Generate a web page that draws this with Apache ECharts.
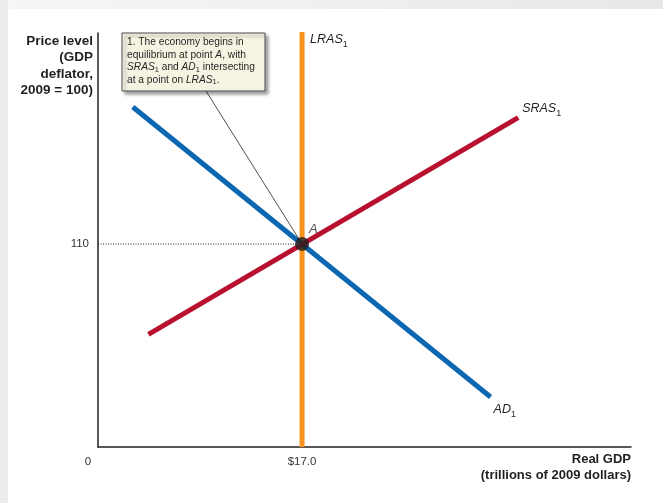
<!DOCTYPE html>
<html>
<head>
<meta charset="utf-8">
<script src="https://cdn.jsdelivr.net/npm/echarts@6/dist/echarts.min.js"></script>
<style>
  html, body { margin: 0; padding: 0; background: #fff; }
  #chart { width: 663px; height: 503px; }
</style>
</head>
<body>
<div id="chart"></div>
<script>
// Axis ticks
const gdpTicks = [0, 17];
const priceTicks = [110];

// Long-run aggregate supply: vertical at potential GDP
const lrasGdp = [17, 17];
const lrasPrice = [0, 225];

// Aggregate demand (downward sloping)
const adGdp = [2.9, 32.7];
const adPrice = [184.3, 27.1];

// Short-run aggregate supply (upward sloping)
const srasGdp = [4.2, 35];
const srasPrice = [61, 178.5];

// Equilibrium point A
const equilibrium = [17, 110];

const FONT = '"Liberation Sans", Arial, Helvetica, sans-serif';
const BLUE = '#0b67b2';
const RED = '#b8102f';
const ORANGE = '#f7941d';
const INK = '#231f20';

const zip = (xs, ys) => xs.map((x, i) => [x, ys[i]]);

const subRich = {
  it: { fontStyle: 'italic', fontSize: 12.5, fontFamily: FONT, color: INK },
  sub: { fontSize: 9, fontFamily: FONT, color: INK, padding: [9, 0, 0, 0] }
};

function curveLabel(text, offset) {
  return {
    show: true,
    distance: 4,
    offset: offset,
    formatter: text,
    rich: subRich
  };
}

const chart = echarts.init(document.getElementById('chart'), null, { renderer: 'canvas' });

const option = {
  animation: false,
  backgroundColor: '#ffffff',
  grid: { left: 98, top: 33, right: 32, bottom: 56, containLabel: false },
  xAxis: {
    type: 'value',
    min: 0,
    max: 44.4,
    name: 'Real GDP\n(trillions of 2009 dollars)',
    nameLocation: 'end',
    nameGap: 0,
    nameTextStyle: {
      align: 'right',
      verticalAlign: 'top',
      fontFamily: FONT,
      fontWeight: 'bold',
      fontSize: 13,
      lineHeight: 16.5,
      color: INK,
      padding: [4, 0, 0, 0]
    },
    axisLine: { show: true, lineStyle: { color: INK, width: 1.5 } },
    axisTick: { show: false },
    splitLine: { show: false },
    axisLabel: {
      customValues: gdpTicks,
      showMinLabel: true,
      margin: 9,
      fontFamily: FONT,
      fontSize: 11.5,
      color: '#333',
      formatter: v => v === 0 ? '{z|0}' : '$' + v.toFixed(1),
      rich: { z: { fontFamily: FONT, fontSize: 11.5, color: '#333', padding: [0, 20, 0, 0] } }
    }
  },
  yAxis: {
    type: 'value',
    min: 0,
    max: 224.4,
    name: 'Price level\n(GDP\ndeflator,\n2009 = 100)',
    nameLocation: 'end',
    nameGap: 0,
    nameTextStyle: {
      align: 'right',
      verticalAlign: 'top',
      fontFamily: FONT,
      fontWeight: 'bold',
      fontSize: 13.5,
      lineHeight: 16.5,
      color: INK,
      padding: [0, 5, 0, 0]
    },
    axisLine: { show: true, lineStyle: { color: INK, width: 1.5 } },
    axisTick: { show: false },
    splitLine: { show: false },
    axisLabel: {
      customValues: priceTicks,
      margin: 9,
      fontFamily: FONT,
      fontSize: 11.5,
      color: '#333'
    }
  },
  series: [
    {
      name: 'guide',
      type: 'line',
      data: [[0, equilibrium[1]], equilibrium],
      symbol: 'none',
      lineStyle: { color: INK, width: 1, type: [1, 1.5] },
      z: 1,
      silent: true
    },
    {
      name: 'LRAS1',
      type: 'line',
      data: zip(lrasGdp, lrasPrice),
      symbol: 'none',
      clip: false,
      lineStyle: { color: ORANGE, width: 5, cap: 'butt' },
      endLabel: curveLabel('{it|LRAS}{sub|1}', [4, 8]),
      z: 2
    },
    {
      name: 'AD1',
      type: 'line',
      data: zip(adGdp, adPrice),
      symbol: 'none',
      lineStyle: { color: BLUE, width: 5, cap: 'butt' },
      endLabel: curveLabel('{it|AD}{sub|1}', [-1, 13]),
      z: 3
    },
    {
      name: 'SRAS1',
      type: 'line',
      data: zip(srasGdp, srasPrice),
      symbol: 'none',
      lineStyle: { color: RED, width: 5, cap: 'butt' },
      endLabel: curveLabel('{it|SRAS}{sub|1}', [0, -9]),
      z: 4
    },
    {
      name: 'A',
      type: 'scatter',
      data: [equilibrium],
      symbol: 'circle',
      symbolSize: 14,
      itemStyle: { color: INK },
      label: {
        show: true,
        formatter: 'A',
        position: [14, -14],
        fontFamily: FONT,
        fontStyle: 'italic',
        fontSize: 13,
        color: INK
      },
      z: 6
    }
  ]
};

chart.setOption(option);

// Frame, callout box and its leader line
const a = chart.convertToPixel({ gridIndex: 0 }, equilibrium);
const box = { x: 122, y: 33, w: 143, h: 58 };

chart.setOption({
  graphic: [
    {
      type: 'rect', z: -10, silent: true,
      shape: { x: 0, y: 0, width: 663, height: 503 },
      style: { fill: '#ececec' }
    },
    {
      type: 'rect', z: -9, silent: true,
      shape: { x: 8, y: 9, width: 655, height: 494 },
      style: { fill: '#ffffff' }
    },
    {
      type: 'rect', z: -8, silent: true,
      shape: { x: 8, y: 0, width: 655, height: 9 },
      style: {
        fill: new echarts.graphic.LinearGradient(0, 0, 1, 0, [
          { offset: 0, color: '#f6f6f6' },
          { offset: 1, color: '#e8e8e8' }
        ])
      }
    },
    {
      type: 'line', z: 5, silent: true,
      shape: { x1: box.x + 84, y1: box.y + box.h, x2: a[0], y2: a[1] },
      style: { stroke: INK, lineWidth: 0.8 }
    },
    {
      type: 'rect', z: 20, silent: true,
      shape: { x: box.x, y: box.y, width: box.w, height: box.h },
      style: {
        fill: '#f6f3e3', stroke: '#4a4a4a', lineWidth: 1,
        shadowBlur: 3, shadowOffsetX: 3, shadowOffsetY: 3, shadowColor: 'rgba(0,0,0,0.35)'
      }
    },
    {
      type: 'text', z: 21, silent: true,
      x: box.x + 5, y: box.y + 3,
      style: {
        text: '1. The economy begins in\nequilibrium at point {it|A}, with\n{it|SRAS}{sub|1} and {it|AD}{sub|1} intersecting\nat a point on {it|LRAS}{sub|1}.',
        font: '10.2px ' + FONT,
        fill: INK,
        lineHeight: 12.5,
        rich: {
          it: { fontStyle: 'italic', fontSize: 10.2, fontFamily: FONT, fill: INK, lineHeight: 12.5 },
          sub: { fontSize: 7.5, fontFamily: FONT, fill: INK, padding: [5, 0, 0, 0], lineHeight: 12.5 }
        }
      }
    }
  ]
});
</script>
</body>
</html>
